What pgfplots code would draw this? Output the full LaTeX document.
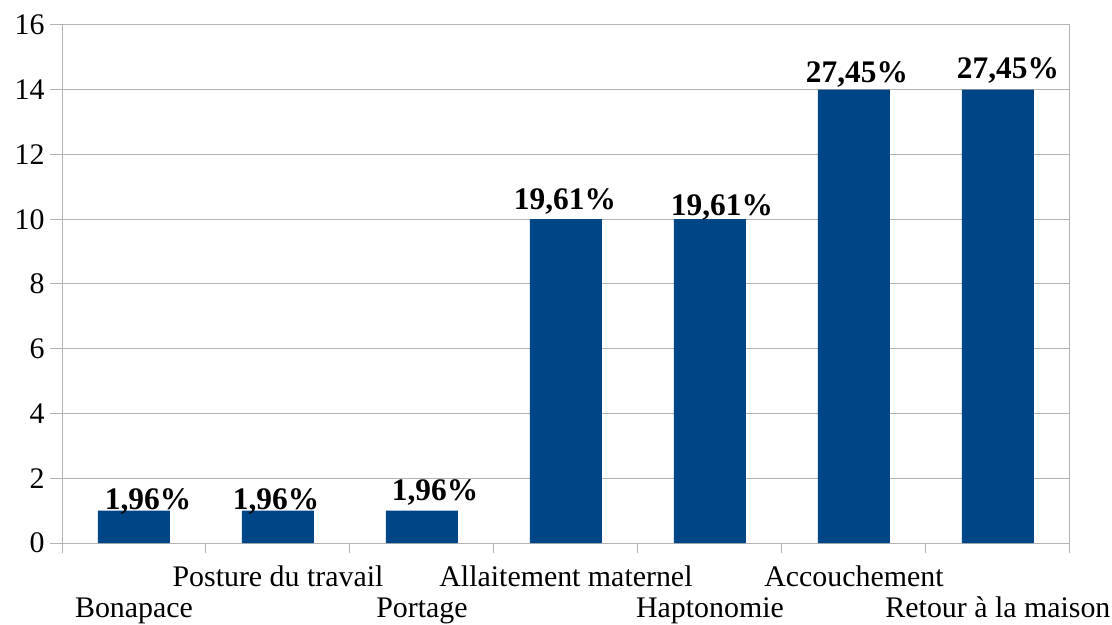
\documentclass[border=0pt]{standalone}
\usepackage{pgfplots}
\pgfplotsset{compat=1.18}
\usepackage{fontspec}
\setmainfont{Liberation Serif}
\definecolor{barblue}{HTML}{004586}
\definecolor{gridgray}{HTML}{B3B3B3}
\begin{document}
\begin{tikzpicture}
\path[use as bounding box] (-62bp,-82bp) rectangle (1050bp,543bp);
\begin{axis}[
  at={(0,0)}, anchor=south west,
  scale only axis, width=1008bp, height=518bp,
  xmin=-0.5, xmax=6.5, ymin=0, ymax=16,
  ytick={0,2,...,16},
  xtick={0,...,6},
  minor xtick={-0.5,0.5,...,6.5},
  xticklabels={{\strut\\\strut Bonapace},{\strut Posture du travail},{\strut\\\strut Portage},{\strut Allaitement maternel},{\strut\\\strut Haptonomie},{\strut Accouchement},{\strut\\\strut Retour à la maison}},
  xticklabel style={align=center, font=\fontsize{30}{31}\selectfont, anchor=north, yshift=-6bp},
  yticklabel style={font=\fontsize{30}{32}\selectfont, xshift=-2bp},
  /pgf/number format/assume math mode=true,
  major x tick style={draw=none},
  minor tick length=10bp,
  major tick length=12bp,
  tick align=outside,
  xtick pos=bottom, ytick pos=left,
  ymajorgrids, grid style={gridgray, line width=1bp},
  axis line style={gridgray, line width=1bp},
  tick style={gridgray, line width=1bp},
  minor tick style={gridgray, line width=1bp},
  ybar, bar width=0.5,
]
\addplot[fill=barblue, draw=none,
  nodes near coords,
  point meta=explicit symbolic,
  visualization depends on={\thisrow{dx} \as \mydx},
  visualization depends on={\thisrow{dy} \as \mydy},
  nodes near coords style={font=\fontsize{31.5}{33}\selectfont\bfseries, anchor=base, black, xshift=\mydx bp, yshift=\mydy bp},
] table[x=x, y=y, meta=label] {
x y dx dy label
0 1 14 1 1,96\%
1 1 -2 1 1,96\%
2 1 13 10 1,96\%
3 10 -1 10 19,61\%
4 10 12 4 19,61\%
5 14 3 7.5 27,45\%
6 14 10 11 27,45\%
};
\end{axis}
\end{tikzpicture}
\end{document}
